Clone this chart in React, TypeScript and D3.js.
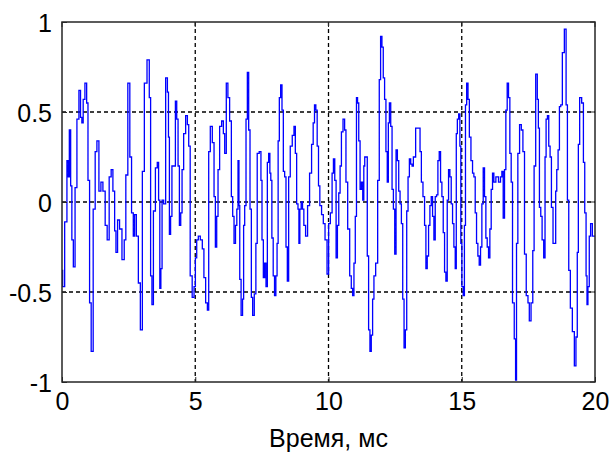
import React, { useRef, useEffect } from "react";
import { select, scaleLinear, line, curveStep, axisBottom, axisLeft } from "d3";

// signal in pieces (time in ms, amplitude)
const t1 = [0, 0.05, 0.15, 0.22, 0.25, 0.3, 0.35, 0.39, 0.46, 0.52, 0.6, 0.67, 0.72, 0.77, 0.82, 0.9, 0.95, 1.0, 1.07, 1.12, 1.22, 1.27, 1.35, 1.42, 1.5, 1.57, 1.67, 1.72, 1.82, 1.87, 1.95, 2.0, 2.05, 2.12, 2.2, 2.3, 2.37, 2.42, 2.52, 2.57, 2.65, 2.7, 2.75, 2.83, 2.9, 2.98, 3.05, 3.13];
const v1 = [-0.38, -0.47, -0.11, 0.23, 0.14, 0.4, 0.09, -0.21, -0.36, 0.08, 0.46, 0.62, 0.47, 0.44, 0.57, 0.66, 0.55, 0.12, -0.56, -0.83, -0.04, 0.28, 0.34, 0.06, 0.11, 0.06, -0.13, -0.21, 0.14, 0.18, 0.06, -0.16, -0.28, -0.1, -0.15, -0.32, -0.21, 0.15, 0.66, 0.25, -0.06, -0.19, -0.07, -0.19, -0.45, -0.71, 0.17, 0.66];

const t2 = [3.25, 3.3, 3.35, 3.4, 3.46, 3.55, 3.6, 3.65, 3.69, 3.73, 3.78, 3.85, 3.93, 3.98, 4.01, 4.05, 4.1, 4.15, 4.23, 4.28, 4.33, 4.38, 4.43, 4.48, 4.53, 4.6, 4.68, 4.73, 4.78, 4.84, 4.93, 4.98, 5.03, 5.08, 5.15, 5.23, 5.3, 5.35, 5.43, 5.48, 5.53, 5.6, 5.68, 5.73, 5.78, 5.83, 5.88, 5.95, 6.03, 6.08, 6.13, 6.2, 6.25, 6.33, 6.38, 6.43, 6.48];
const v2 = [0.79, 0.58, -0.41, -0.57, -0.05, 0.19, 0.22, 0.01, -0.48, -0.37, 0.01, -0.01, 0.69, 0.61, 0.36, -0.18, -0.08, 0.2, 0.2, 0.56, 0.46, 0.2, -0.13, -0.06, 0.18, 0.38, 0.48, 0.43, 0.31, -0.41, -0.53, -0.47, -0.31, -0.21, -0.19, -0.21, -0.26, -0.42, -0.56, -0.6, 0.28, 0.42, 0.33, 0.03, -0.25, -0.08, 0.18, 0.42, 0.45, 0.38, 0.27, 0.66, 0.58, 0.45, 0.03, -0.08, -0.23];

const t3 = [6.54, 6.58, 6.63, 6.65, 6.69, 6.75, 6.8, 6.83, 6.88, 6.93, 6.98, 7.03, 7.08, 7.13, 7.18, 7.25, 7.3, 7.35, 7.45, 7.48, 7.53, 7.58, 7.63, 7.68, 7.73, 7.78, 7.82, 7.85, 7.9, 7.95, 8.0, 8.05, 8.09, 8.13, 8.18, 8.23, 8.28, 8.33, 8.38, 8.43, 8.48, 8.53, 8.6, 8.68, 8.73, 8.78, 8.83, 8.88, 8.9, 8.95, 9.0, 9.05, 9.1, 9.18, 9.25, 9.33, 9.4, 9.45, 9.5, 9.55, 9.6, 9.65, 9.7, 9.78, 9.83];
const v3 = [-0.13, -0.04, 0.23, -0.02, -0.43, -0.63, -0.54, -0.13, -0.02, 0.46, 0.72, 0.4, -0.04, -0.53, -0.63, -0.51, -0.23, 0.27, 0.28, 0.12, -0.21, -0.42, -0.34, -0.47, 0.22, 0.27, 0.16, 0.12, -0.2, -0.41, -0.52, -0.41, -0.23, 0.34, 0.58, 0.65, 0.51, 0.17, 0.14, -0.25, -0.44, 0.14, 0.31, 0.37, 0.42, 0.27, -0.01, -0.04, -0.23, -0.04, 0.0, -0.04, -0.13, -0.19, -0.02, 0.16, 0.32, 0.44, 0.54, 0.51, 0.31, 0.09, -0.02, -0.07, -0.12];

const t4 = [9.91, 9.98, 10.03, 10.11, 10.16, 10.21, 10.26, 10.31, 10.36, 10.41, 10.46, 10.51, 10.58, 10.63, 10.68, 10.76, 10.83, 10.88, 10.93, 10.98, 11.03, 11.07, 11.11, 11.16, 11.21, 11.26, 11.31, 11.34, 11.38, 11.43, 11.48, 11.53, 11.58, 11.63, 11.68, 11.73, 11.81, 11.88, 11.93, 11.98, 12.03, 12.08, 12.13, 12.18, 12.23, 12.26, 12.31, 12.36, 12.41, 12.46, 12.51, 12.56, 12.61, 12.66, 12.71, 12.76, 12.81, 12.86, 12.91, 12.96, 13.01, 13.06, 13.11, 13.16, 13.21];
const v4 = [-0.21, -0.4, -0.12, -0.06, 0.16, 0.24, 0.12, -0.31, -0.13, 0.05, 0.2, 0.39, 0.46, 0.4, 0.11, -0.15, -0.41, -0.48, -0.52, -0.34, -0.08, 0.58, 0.55, 0.34, 0.07, 0.11, 0.01, 0.2, 0.25, 0.25, -0.3, -0.71, -0.83, -0.74, -0.54, -0.41, -0.34, 0.12, 0.68, 0.92, 0.86, 0.69, 0.57, 0.28, 0.11, 0.44, 0.55, 0.42, 0.07, -0.04, -0.29, 0.29, 0.23, 0.06, -0.01, -0.12, -0.54, -0.81, -0.71, -0.05, 0.14, 0.24, 0.21, 0.2, 0.25];

const t5 = [13.33, 13.41, 13.46, 13.51, 13.58, 13.63, 13.68, 13.73, 13.78, 13.83, 13.88, 13.93, 13.98, 14.03, 14.08, 14.13, 14.18, 14.23, 14.28, 14.33, 14.38, 14.43, 14.48, 14.53, 14.58, 14.63, 14.68, 14.73, 14.78, 14.81, 14.86, 14.91, 14.95, 14.98, 15.03, 15.08, 15.12, 15.16, 15.21, 15.26, 15.31, 15.38, 15.43, 15.48, 15.53, 15.58, 15.63, 15.68, 15.73, 15.78, 15.83, 15.88, 15.93, 15.98, 16.03, 16.08, 16.13, 16.18, 16.23, 16.33, 16.43, 16.48, 16.53, 16.58, 16.63, 16.68, 16.73, 16.78, 16.83, 16.88, 16.93];
const v5 = [0.41, 0.41, 0.28, 0.11, 0.03, -0.13, -0.37, -0.3, -0.13, -0.02, 0.03, -0.08, -0.21, 0.03, 0.04, 0.23, 0.28, 0.11, 0.03, -0.17, -0.39, -0.44, 0.01, 0.18, 0.14, -0.01, -0.12, -0.25, -0.37, 0.38, 0.46, 0.49, 0.31, -0.23, -0.47, -0.52, -0.13, 0.54, 0.66, 0.57, 0.36, 0.23, 0.16, 0.14, -0.06, -0.23, -0.3, -0.35, -0.25, -0.01, 0.19, 0.03, -0.2, -0.25, -0.31, -0.15, 0.07, 0.16, 0.11, 0.14, 0.11, 0.14, 0.17, -0.09, 0.18, 0.51, 0.66, 0.58, 0.27, 0.11, -0.56];

const t6 = [17.01, 17.03, 17.08, 17.13, 17.21, 17.26, 17.33, 17.38, 17.46, 17.51, 17.56, 17.64, 17.69, 17.74, 17.81, 17.86, 17.89, 17.94, 17.99, 18.04, 18.11, 18.14, 18.19, 18.24, 18.29, 18.34, 18.39, 18.46, 18.51, 18.54, 18.59, 18.64, 18.69, 18.74, 18.81, 18.89, 18.94, 18.99, 19.04, 19.11, 19.19, 19.26, 19.31, 19.36, 19.39, 19.46, 19.54, 19.59, 19.64, 19.69, 19.71, 19.76, 19.81, 19.86, 19.94, 20.0];
const v6 = [-0.76, -0.99, -0.23, 0.27, 0.43, 0.4, 0.28, -0.29, -0.52, -0.56, -0.66, -0.56, -0.27, 0.2, 0.71, 0.57, 0.41, -0.03, -0.08, -0.21, -0.31, 0.25, 0.46, 0.48, 0.31, 0.25, -0.03, -0.23, -0.23, 0.06, 0.18, 0.29, 0.53, 0.54, 0.83, 0.96, 0.54, 0.01, -0.38, -0.59, -0.72, -0.91, -0.75, -0.28, 0.32, 0.58, 0.55, 0.22, -0.06, -0.41, -0.57, -0.47, -0.19, -0.12, -0.19, -0.19];

const xTicks = [0, 5, 10, 15, 20];
const yTicks = [-1, -0.5, 0, 0.5, 1];
const xLabel = "Время, мс";

const times = [...t1, ...t2, ...t3, ...t4, ...t5, ...t6];
const values = [...v1, ...v2, ...v3, ...v4, ...v5, ...v6];

function App() {
  const svgRef = useRef(null);

  useEffect(() => {
    const svg = select(svgRef.current);
    svg.selectAll("*").remove();

    const left = 62, right = 595, top = 22, bottom = 382;
    const font = "'Liberation Sans', Arial, sans-serif";

    const xScale = scaleLinear().domain([0, 20]).range([left, right]);
    const yScale = scaleLinear().domain([-1, 1]).range([bottom, top]);

    svg.append("rect").attr("width", 610).attr("height", 452).attr("fill", "white");

    svg.append("defs").append("clipPath").attr("id", "plotClip")
      .append("rect").attr("x", left).attr("y", top)
      .attr("width", right - left).attr("height", bottom - top);

    // dashed grid
    const grid = svg.append("g");
    grid.selectAll(".vgrid").data(xTicks.slice(1, -1)).join("line")
      .attr("x1", d => xScale(d)).attr("x2", d => xScale(d))
      .attr("y1", top).attr("y2", bottom)
      .attr("stroke", "black").attr("stroke-width", 1.3).attr("stroke-dasharray", "4,3");
    grid.selectAll(".hgrid").data(yTicks.slice(1, -1)).join("line")
      .attr("y1", d => yScale(d)).attr("y2", d => yScale(d))
      .attr("x1", left).attr("x2", right)
      .attr("stroke", "black").attr("stroke-width", 1.3).attr("stroke-dasharray", "4,3");

    // the signal, drawn as steps like the sampled original
    const lineGenerator = line()
      .x((d, i) => xScale(times[i]))
      .y(d => yScale(d))
      .curve(curveStep);

    svg.append("path")
      .datum(values)
      .attr("clip-path", "url(#plotClip)")
      .attr("fill", "none")
      .attr("stroke", "#0000ff")
      .attr("stroke-width", 1.3)
      .attr("d", lineGenerator);

    // axes: inward ticks, labels outside
    const xAxis = axisBottom(xScale).tickValues(xTicks).tickSize(-5).tickPadding(12)
      .tickFormat(d => String(d));
    const gx = svg.append("g").attr("transform", `translate(0, ${bottom})`).call(xAxis);
    const yAxis = axisLeft(yScale).tickValues(yTicks).tickSize(-5).tickPadding(10)
      .tickFormat(d => String(d));
    const gy = svg.append("g").attr("transform", `translate(${left}, 0)`).call(yAxis);

    [gx, gy].forEach(g => {
      g.select(".domain").remove();
      g.selectAll("line").attr("stroke", "#262626");
      g.selectAll("text").attr("font-family", font).attr("font-size", 25).attr("fill", "black");
    });
    gx.selectAll("text").attr("dy", "0.71em").attr("y", 10);
    gy.selectAll("text").attr("dy", "0.36em");

    // mirrored ticks on top and right
    svg.append("g").selectAll("line").data(xTicks).join("line")
      .attr("x1", d => xScale(d)).attr("x2", d => xScale(d))
      .attr("y1", top).attr("y2", top + 5).attr("stroke", "#262626");
    svg.append("g").selectAll("line").data(yTicks).join("line")
      .attr("y1", d => yScale(d)).attr("y2", d => yScale(d))
      .attr("x1", right).attr("x2", right - 5).attr("stroke", "#262626");

    // box
    svg.append("rect")
      .attr("x", left).attr("y", top)
      .attr("width", right - left).attr("height", bottom - top)
      .attr("fill", "none").attr("stroke", "#262626").attr("stroke-width", 1.5);

    svg.append("text")
      .attr("x", (left + right) / 2).attr("y", 447)
      .attr("text-anchor", "middle")
      .attr("font-family", font).attr("font-size", 25)
      .attr("fill", "black")
      .text(xLabel);
  }, []);

  return (
    <svg ref={svgRef} width={610} height={452}
      style={{ position: "absolute", left: 0, top: 0 }} />
  );
}

export default App;
